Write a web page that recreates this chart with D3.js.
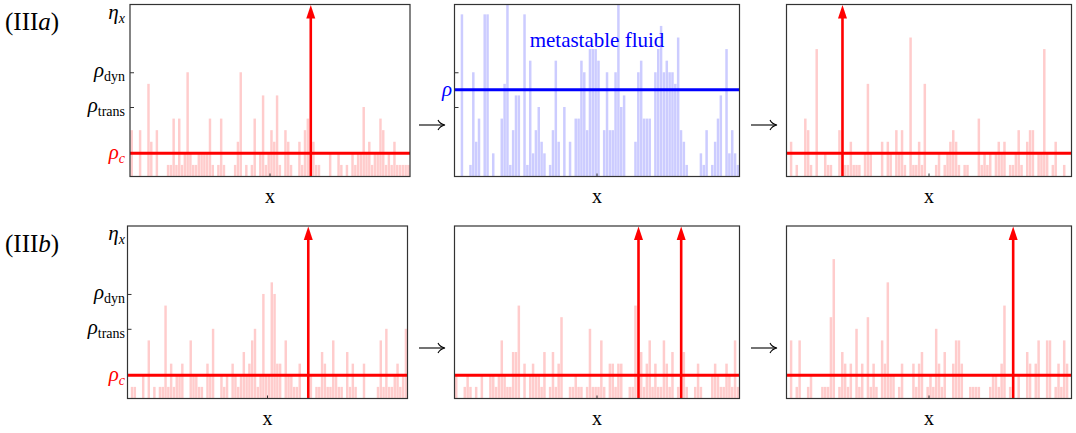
<!DOCTYPE html>
<html>
<head>
<meta charset="utf-8">
<script src="https://cdn.jsdelivr.net/npm/d3@7/dist/d3.min.js"></script>
<style>
body{margin:0;background:#fff}
svg{display:block}
text{font-family:"Liberation Serif","DejaVu Serif",serif}
</style>
</head>
<body>
<script>
// site index 0..99 along x
const sites = d3.range(100)

// eta_x per site (integer levels)
const etaA1 = [4,0,0,4,0,0,8,3,0,4, 0,0,0,1,1,5,1,5,1,2, 9,2,1,1,2,2,2,2,5,1, 0,1,5,1,0,0,0,1,3,9, 0,1,0,1,5,0,2,7,1,2,
               4,3,7,1,0,4,3,1,0,0, 3,1,4,5,0,3,1,1,0,0, 0,2,0,0,2,1,0,1,0,2, 1,2,2,6,2,3,1,2,2,5, 4,1,2,1,3,1,1,1,1,1]
const etaA2 = [0,0,14,0,0,1,9,3,5,0, 14,14,0,2,0,0,5,8,16,1, 4,7,7,0,14,1,10,2,4,6, 3,2,0,1,4,10,3,0,6,0, 3,0,5,5,10,9,4,11,11,11,
               10,0,4,9,4,4,9,16,6,7, 0,0,0,3,9,10,5,5,5,0, 9,11,13,9,10,9,9,8,12,4, 3,1,0,0,0,0,2,1,4,0, 1,3,5,7,0,11,2,4,2,1]
const etaA3 = [0,3,0,1,0,0,5,4,1,0, 11,0,0,2,1,1,0,0,4,0, 1,1,3,1,1,1,0,2,8,2, 0,0,0,3,0,3,2,0,4,2, 4,1,0,12,1,1,3,1,8,0,
               0,0,1,2,0,1,2,3,4,3, 1,0,1,1,0,0,0,5,1,2, 1,2,0,2,3,2,3,0,1,1, 2,4,1,0,3,4,4,0,2,2, 11,2,0,1,3,0,0,1,0,0]
const etaB1 = [0,1,1,0,0,2,0,5,0,1, 0,1,1,8,1,3,1,2,2,3, 0,0,5,2,2,1,1,0,3,2, 6,0,0,2,1,2,0,3,2,1, 2,4,2,3,5,6,1,2,9,2,
               2,10,9,3,3,0,5,2,2,1, 1,3,0,0,0,2,0,1,1,4, 3,1,1,5,2,1,1,0,4,1, 3,1,0,0,3,0,0,0,0,1, 5,1,6,1,1,2,3,1,2,6]
const etaB2 = [2,0,0,1,2,1,0,1,0,2, 0,0,2,2,1,2,5,2,1,1, 4,4,8,0,3,0,2,3,2,2, 1,4,0,1,4,1,3,7,0,0, 1,1,2,1,1,0,1,6,1,1,
               1,5,1,0,3,3,1,3,3,0, 0,1,1,8,0,4,1,3,5,1, 3,1,1,5,3,1,4,0,1,0, 4,1,0,0,1,3,1,0,0,0, 2,3,2,1,1,3,2,1,5,1]
const etaB3 = [0,5,0,1,5,0,0,1,2,0, 0,0,1,1,1,7,12,0,1,4, 3,1,3,0,6,1,3,0,7,1, 3,1,0,5,3,10,2,2,0,1, 3,0,0,0,3,1,3,4,0,1,
               2,1,6,3,1,4,0,0,3,5, 5,3,0,0,1,1,1,1,0,0, 0,1,2,2,1,3,8,0,1,0, 0,2,0,0,4,3,0,3,5,0, 0,5,5,0,1,3,1,5,3,0]

// sites that blow up (drawn as arrows)
const arrowsA1 = [64]
const arrowsA3 = [19]
const arrowsB1 = [64]
const arrowsB2 = [64, 79]
const arrowsB3 = [79]

// reference densities
const rhoC = 2
const rhoTrans = 6
const rhoDyn = 9
const rhoFluid = 7.5
const etaTop = 14.85

const svg = d3.select("body").append("svg").attr("width",1076).attr("height",433)

const rows = [{top:4.5,bottom:176.5},{top:226,bottom:398.5}]
const cols = [[130,410],[454.5,739.5],[786.5,1071.5]]
const pink = "#ffcccc", lav = "#ccccff"

let clipId = 0
function panel(data, r, c, o){
    const x0 = (r==1 && c==0) ? 127.5 : cols[c][0]
    const x1 = (r==1 && c==0) ? 407.5 : cols[c][1]
    const top = rows[r].top, bottom = rows[r].bottom
    const x = d3.scaleBand().domain(sites).range([x0+0.5, x1])
    const y = d3.scaleLinear().domain([0, etaTop]).range([bottom, top])
    const g = svg.append("g")
    const id = "clip"+(clipId++)
    g.append("clipPath").attr("id",id).append("rect")
        .attr("x",x0).attr("y",top).attr("width",x1-x0).attr("height",bottom-top)
    const inner = g.append("g").attr("clip-path","url(#"+id+")")
    inner.selectAll("rect.bar").data(sites).enter().append("rect")
        .attr("class","bar")
        .attr("x",d=>x(d))
        .attr("y",d=>y(data[d]))
        .attr("width",x.bandwidth()-0.35)
        .attr("height",d=>bottom-y(data[d]))
        .attr("fill",o.fill)
    inner.append("line")
        .attr("x1",x0).attr("x2",x1)
        .attr("y1",y(o.level)).attr("y2",y(o.level))
        .attr("stroke",o.lineColor).attr("stroke-width",3)
    ;(o.arrows||[]).forEach(s=>{
        const cx = x(s)+x.bandwidth()/2
        inner.append("line").attr("x1",cx).attr("x2",cx)
            .attr("y1",bottom).attr("y2",top+10)
            .attr("stroke","#ff0000").attr("stroke-width",2.6)
        inner.append("path")
            .attr("d",`M${cx},${top+0.5} L${cx-4.5},${top+14} L${cx+4.5},${top+14} Z`)
            .attr("fill","#ff0000")
    })
    // inward ticks at rho_trans and rho_dyn
    if(o.ticks){
        g.append("g").attr("transform",`translate(${x0},0)`)
            .call(d3.axisLeft(y).tickValues([rhoTrans,rhoDyn]).tickSize(-4).tickFormat(""))
            .call(a=>a.select(".domain").remove())
            .selectAll("line").attr("stroke","#333")
    }
    // small tick at centre of bottom axis
    const xm = (x0+x1)/2
    g.append("line").attr("x1",xm).attr("x2",xm).attr("y1",bottom).attr("y2",bottom-3)
        .attr("stroke","#333")
    g.append("rect").attr("x",x0).attr("y",top).attr("width",x1-x0).attr("height",bottom-top)
        .attr("fill","none").attr("stroke","#333").attr("stroke-width",1.2)
    svg.append("text").attr("x",xm).attr("y",bottom+26).attr("text-anchor","middle")
        .attr("font-size",20).text("x")
    return y
}

const yA = panel(etaA1,0,0,{fill:pink,level:rhoC,lineColor:"#ff0000",arrows:arrowsA1,ticks:true})
panel(etaA2,0,1,{fill:lav,level:rhoFluid,lineColor:"#0000ff",ticks:true})
panel(etaA3,0,2,{fill:pink,level:rhoC,lineColor:"#ff0000",arrows:arrowsA3})
const yB = panel(etaB1,1,0,{fill:pink,level:rhoC,lineColor:"#ff0000",arrows:arrowsB1,ticks:true})
panel(etaB2,1,1,{fill:pink,level:rhoC,lineColor:"#ff0000",arrows:arrowsB2})
panel(etaB3,1,2,{fill:pink,level:rhoC,lineColor:"#ff0000",arrows:arrowsB3})

// row labels
function rowLabel(letter, yb){
    const t = svg.append("text").attr("x",5).attr("y",yb).attr("font-size",25)
    t.append("tspan").text("(III")
    t.append("tspan").attr("font-style","italic").text(letter)
    t.append("tspan").text(")")
}
rowLabel("a",30)
rowLabel("b",252)

// y labels
function rho(yb, sub, color, xe){
    const t = svg.append("text").attr("x",xe).attr("y",yb).attr("text-anchor","end")
        .attr("font-size",21).attr("fill",color)
    t.append("tspan").attr("font-style","italic").text(sub=="x"?"η":"ρ")
    if(sub){
        t.append("tspan").attr("font-size",14).attr("dy",4)
            .attr("font-style",(sub=="c"||sub=="x")?"italic":"normal").text(sub)
    }
}
;[yA,yB].forEach(y=>{
    rho(y(etaTop)+14,"x","#000",125)
    rho(y(rhoDyn)+5,"dyn","#000",125)
    rho(y(rhoTrans)+5,"trans","#000",125)
    rho(y(rhoC)+6,"c","#ff0000",125)
})
rho(yA(rhoFluid)+6,"","#0000ff",452)

svg.append("text").attr("x",597).attr("y",47).attr("text-anchor","middle")
    .attr("font-size",21).attr("fill","#0000ff").text("metastable fluid")

// transition arrows between panels, drawn as LaTeX-like \to
;[[419,125],[751,125],[419,348],[751,348]].forEach(p=>{
    const [ax, ay] = p
    svg.append("path")
        .attr("d",`M${ax},${ay} H${ax+25}`)
        .attr("stroke","#000").attr("stroke-width",1.1).attr("fill","none")
    svg.append("path")
        .attr("d",`M${ax+19},${ay-5} Q${ax+21},${ay-1} ${ax+26},${ay} Q${ax+21},${ay+1} ${ax+19},${ay+5}`)
        .attr("stroke","#000").attr("stroke-width",1.1).attr("fill","none")
})
</script>
</body>
</html>
